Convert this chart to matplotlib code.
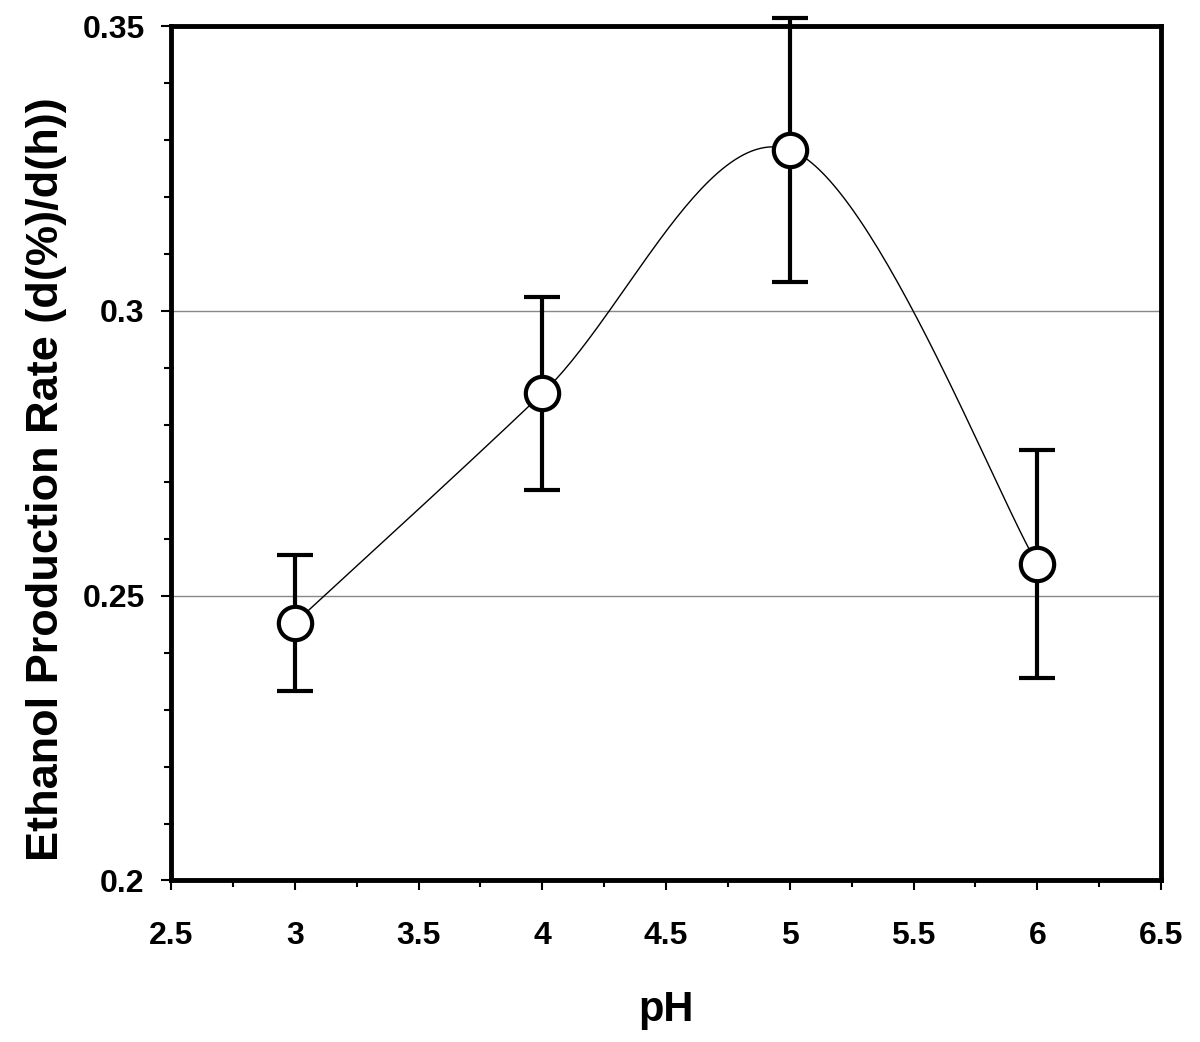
import numpy as np
import matplotlib
matplotlib.use('Agg')
import matplotlib.pyplot as plt
from matplotlib.ticker import MultipleLocator, FuncFormatter

plt.rcParams['font.family'] = ['Liberation Sans', 'DejaVu Sans']
plt.rcParams['font.weight'] = 'bold'

# data
ph = [3, 4, 5, 6]
rate = [0.2452, 0.2855, 0.3283, 0.2556]
err = [0.0120, 0.0170, 0.0232, 0.0200]

# excel-like smoothed line through the points (bezier, tension 1/6)
def smooth(x, y, n=60):
    x = np.asarray(x, float); y = np.asarray(y, float)
    px = np.concatenate([[x[0]], x, [x[-1]]])
    py = np.concatenate([[y[0]], y, [y[-1]]])
    xs, ys = [], []
    t = np.linspace(0, 1, n)
    for i in range(1, len(px) - 2):
        p0 = np.array([px[i], py[i]]); p3 = np.array([px[i+1], py[i+1]])
        p1 = p0 + (np.array([px[i+1], py[i+1]]) - np.array([px[i-1], py[i-1]])) / 6
        p2 = p3 - (np.array([px[i+2], py[i+2]]) - np.array([px[i], py[i]])) / 6
        b = ((1-t)**3)[:, None]*p0 + (3*(1-t)**2*t)[:, None]*p1 + (3*(1-t)*t**2)[:, None]*p2 + (t**3)[:, None]*p3
        xs.extend(b[:, 0]); ys.extend(b[:, 1])
    return xs, ys

fig = plt.figure(figsize=(12, 10.42), dpi=100)
ax = fig.add_axes([0.1425, 0.155, 0.825, 0.82])

sx, sy = smooth(ph, rate)
ax.plot(sx, sy, color='black', lw=1.0, zorder=2)
eb = ax.errorbar(ph, rate, yerr=err, fmt='none', ecolor='black', elinewidth=3, capsize=13, capthick=3, zorder=3)
for art in eb.lines[1] + eb.lines[2]:
    art.set_clip_on(False)
ax.plot(ph, rate, 'o', ms=24, mfc='white', mec='black', mew=3, zorder=4)

ax.set_xlim(2.5, 6.5)
ax.set_ylim(0.2, 0.35)
ax.xaxis.set_major_locator(MultipleLocator(0.5))
ax.xaxis.set_minor_locator(MultipleLocator(0.25))
ax.yaxis.set_major_locator(MultipleLocator(0.05))
ax.yaxis.set_minor_locator(MultipleLocator(0.01))
ax.xaxis.set_major_formatter(FuncFormatter(lambda v, p: ('%g' % v)))
ax.yaxis.set_major_formatter(FuncFormatter(lambda v, p: ('%g' % round(v, 2))))
ax.grid(axis='y', which='major', color='#888888', lw=1)
ax.set_axisbelow(True)
for s in ax.spines.values():
    s.set_linewidth(3.5)
ax.tick_params(which='both', direction='out', width=1.5, labelsize=23)
ax.tick_params(which='major', length=7)
ax.tick_params(which='minor', length=5)
ax.tick_params(axis='x', which='major', pad=22)
ax.tick_params(axis='y', which='major', pad=12)
ax.set_xlabel('pH', fontsize=30, fontweight='bold', labelpad=28)
ax.set_ylabel('Ethanol Production Rate (d(%)/d(h))', fontsize=32.5, fontweight='bold')
ax.yaxis.set_label_coords(-0.105, 0.47)

plt.savefig('out.png', dpi=100)
